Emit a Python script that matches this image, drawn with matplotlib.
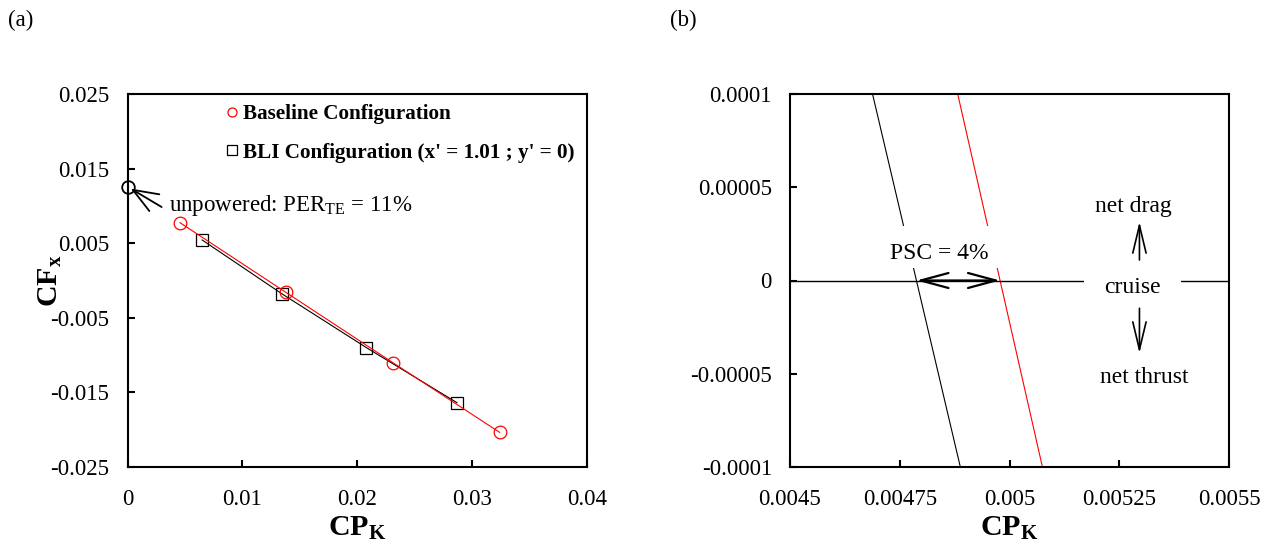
import numpy as np
import matplotlib
matplotlib.use("Agg")
import matplotlib.pyplot as plt
from matplotlib.lines import Line2D
from matplotlib.patches import Rectangle

plt.rcParams["font.family"] = ["Liberation Serif", "DejaVu Serif"]
plt.rcParams["mathtext.fontset"] = "custom"
plt.rcParams["mathtext.rm"] = "Liberation Serif"
plt.rcParams["mathtext.bf"] = "Liberation Serif:bold"
plt.rcParams["mathtext.it"] = "Liberation Serif:italic"

# ---- (a) axial force coefficient vs. power coefficient ----
baseline_cpk = [0.00457, 0.01378, 0.02311, 0.03239]
baseline_cfx = [0.00775, -0.00158, -0.01102, -0.02035]
bli_cpk = [0.0065, 0.01343, 0.0208, 0.02868]
bli_cfx = [0.00543, -0.00177, -0.0090, -0.01638]
unpowered_cpk = [0.0]
unpowered_cfx = [0.0125]

legend_labels = ["Baseline Configuration", "BLI Configuration (x' = 1.01 ; y' = 0)"]

# ---- (b) close-up around the cruise (zero net force) condition ----
zoom_cfx = [0.0001, -0.0001]
zoom_baseline_cpk = [0.004882, 0.005075]
zoom_bli_cpk = [0.004688, 0.004888]

xticks_a = [0, 0.01, 0.02, 0.03, 0.04]
xticklabels_a = ["0", "0.01", "0.02", "0.03", "0.04"]
yticks_a = [0.025, 0.015, 0.005, -0.005, -0.015, -0.025]
yticklabels_a = ["0.025", "0.015", "0.005", "-0.005", "-0.015", "-0.025"]
xticks_b = [0.0045, 0.00475, 0.005, 0.00525, 0.0055]
xticklabels_b = ["0.0045", "0.00475", "0.005", "0.00525", "0.0055"]
yticks_b = [0.0001, 0.00005, 0, -0.00005, -0.0001]
yticklabels_b = ["0.0001", "0.00005", "0", "-0.00005", "-0.0001"]

W, H = 1271, 547
fig = plt.figure(figsize=(W / 100, H / 100), dpi=100)
ax1 = fig.add_axes([127.5 / W, 1 - 467 / H, 459.5 / W, 373 / H])
ax2 = fig.add_axes([790 / W, 1 - 467 / H, 439 / W, 373 / H])


def style_axes(ax):
    for s in ax.spines.values():
        s.set_linewidth(1.5)
    ax.tick_params(direction="in", length=5, width=1.5, labelsize=16.5,
                   top=False, right=False)
    ax.tick_params(axis="x", pad=16)
    ax.tick_params(axis="y", pad=13)


# ---------------- panel (a) ----------------
ax1.plot(bli_cpk, bli_cfx, color="black", lw=0.8, marker="s", ms=9.1,
         mfc="none", mec="black", mew=0.9, zorder=3)
ax1.plot(baseline_cpk, baseline_cfx, color="red", lw=0.8, marker="o", ms=9.1,
         mfc="none", mec="red", mew=0.9, zorder=3)
ax1.plot(unpowered_cpk, unpowered_cfx, linestyle="none", marker="o", ms=9.1,
         mfc="none", mec="black", mew=1.3, clip_on=False, zorder=5)

ax1.annotate("", xy=(0.00028, 0.01232), xytext=(0.00297, 0.00985),
             arrowprops=dict(arrowstyle="->,head_length=0.9,head_width=0.35",
                             mutation_scale=20, lw=1.3, color="black",
                             shrinkA=0, shrinkB=0))
ax1.text(0.00363, 0.00936, r"unpowered: PER$_{\mathrm{TE}}$ = 11%",
         fontsize=16.5, va="baseline", ha="left")

handles = [
    Line2D([], [], linestyle="none", marker="o", ms=6.5, mfc="none",
           mec="red", mew=0.9),
    Line2D([], [], linestyle="none", marker="s", ms=7.5, mfc="none",
           mec="black", mew=0.9),
]
ax1.legend(handles, legend_labels, loc="upper left",
           bbox_to_anchor=(0.2165, 0.972), borderaxespad=0, borderpad=0,
           frameon=False, handlelength=0.5, handletextpad=0.25,
           labelspacing=0.86,
           prop=dict(family="Liberation Serif", weight="bold", size=15.2))

ax1.set_xlim(0, 0.04)
ax1.set_ylim(-0.025, 0.025)
ax1.set_xticks(xticks_a, xticklabels_a)
ax1.set_yticks(yticks_a, yticklabels_a)
style_axes(ax1)
ax1.set_xlabel(r"CP$_{\mathbf{K}}$", fontsize=21.5, fontweight="bold")
ax1.set_ylabel(r"CF$_{\mathbf{x}}$", fontsize=21.5, fontweight="bold")
ax1.xaxis.set_label_coords(0.5, -0.128)
ax1.yaxis.set_label_coords(-0.138, 0.5)

# ---------------- panel (b) ----------------
ax2.plot(zoom_bli_cpk, zoom_cfx, color="black", lw=0.8, zorder=2)
ax2.plot(zoom_baseline_cpk, zoom_cfx, color="red", lw=0.8, zorder=2)
ax2.axhline(0, color="black", lw=1.0, zorder=4)

# power coefficient at zero net force for each configuration
bli_cross = np.interp(0, zoom_cfx[::-1], zoom_bli_cpk[::-1])
base_cross = np.interp(0, zoom_cfx[::-1], zoom_baseline_cpk[::-1])
psc = (1 - bli_cross / base_cross) * 100

ax2.set_xlim(0.0045, 0.0055)
ax2.set_ylim(-0.0001, 0.0001)

psc_text = ax2.text(0.004841, 0.0000114, f"PSC = {psc:.0f}%", fontsize=17,
                    ha="center", va="baseline", zorder=3.5)
ax2.annotate("", xy=(base_cross, 0), xytext=(bli_cross, 0),
             arrowprops=dict(arrowstyle="<->,head_length=1.0,head_width=0.27",
                             mutation_scale=20, lw=1.6, color="black",
                             shrinkA=0, shrinkB=0), zorder=6)

ax2.text(0.005281, -0.0000069, "cruise", fontsize=17, ha="center",
         va="baseline", zorder=5,
         bbox=dict(facecolor="white", edgecolor="none", pad=14.5))
ax2.text(0.005283, 0.0000369, "net drag", fontsize=17, ha="center",
         va="baseline", zorder=5)
ax2.text(0.005306, -0.0000551, "net thrust", fontsize=17, ha="center",
         va="baseline", zorder=5)
ax2.annotate("", xy=(0.005296, 0.0000315), xytext=(0.005296, 0.000011),
             arrowprops=dict(arrowstyle="->,head_length=1.0,head_width=0.24",
                             mutation_scale=20, lw=1.2, color="black",
                             shrinkA=0, shrinkB=0), zorder=6)
ax2.annotate("", xy=(0.005296, -0.0000390), xytext=(0.005296, -0.0000149),
             arrowprops=dict(arrowstyle="->,head_length=1.0,head_width=0.24",
                             mutation_scale=20, lw=1.2, color="black",
                             shrinkA=0, shrinkB=0), zorder=6)

ax2.set_xticks(xticks_b, xticklabels_b)
ax2.set_yticks(yticks_b, yticklabels_b)
style_axes(ax2)
ax2.set_xlabel(r"CP$_{\mathbf{K}}$", fontsize=21.5, fontweight="bold")
ax2.xaxis.set_label_coords(0.5, -0.128)

fig.text(8 / W, 1 - 20 / H, "(a)", fontsize=16.5, ha="left", va="center")
fig.text(670 / W, 1 - 20 / H, "(b)", fontsize=16.5, ha="left", va="center")

# white backing box behind the PSC label, taller above the text than below
fig.canvas.draw()
bb = psc_text.get_window_extent(renderer=fig.canvas.get_renderer())
inv = ax2.transData.inverted()
(bx0, by0), (bx1, by1) = inv.transform([[bb.x0 - 9, bb.y0 - 4],
                                        [bb.x1 + 9, bb.y1 + 17]])
ax2.add_patch(Rectangle((bx0, by0), bx1 - bx0, by1 - by0, facecolor="white",
                        edgecolor="none", zorder=3))

fig.savefig("out.png", dpi=100)
